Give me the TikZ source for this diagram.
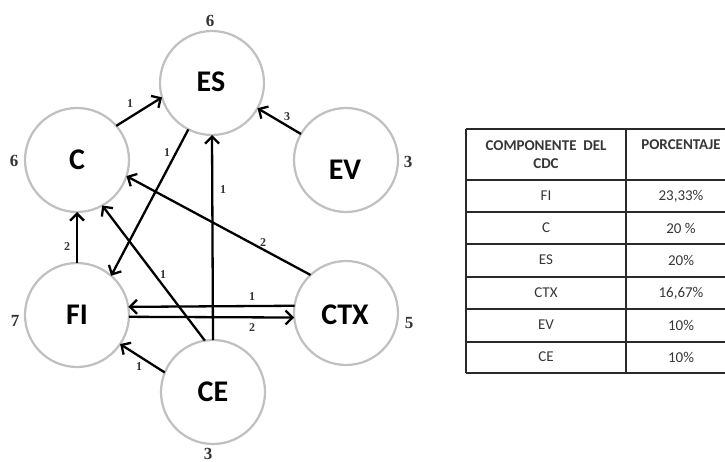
\documentclass[tikz,border=0pt]{standalone}
\usepackage{fontspec}
\setmainfont{Carlito}
\newfontfamily\numfont{Liberation Serif}
\usetikzlibrary{arrows.meta}

\definecolor{circgray}{HTML}{C0C0C0}
\definecolor{numgray}{HTML}{333333}
\definecolor{tabtext}{HTML}{363636}
\definecolor{tabline}{HTML}{2A2A2A}

\tikzset{
  comp/.style={circle, draw=circgray, line width=2.2pt, fill=white,
    minimum size=104pt, inner sep=0pt, outer sep=0pt},
  lbl/.style={font=\bfseries\fontsize{30}{30}\selectfont, text=black, inner sep=0pt},
  link/.style={line width=2.3pt, draw=black,
    -{Straight Barb[length=7pt,width=14pt]}},
  wt/.style={font=\numfont\bfseries\fontsize{12}{12}\selectfont, text=numgray, inner sep=0pt},
  tot/.style={font=\numfont\bfseries\fontsize{17}{17}\selectfont, text=numgray, inner sep=0pt},
  cell/.style={font=\fontsize{15}{15}\selectfont, text=tabtext, inner sep=0pt},
  head/.style={font=\bfseries\fontsize{15}{18}\selectfont, text=tabtext, align=center, inner sep=0pt},
  rule/.style={draw=tabline, line width=1.5pt},
}

\begin{document}
\begin{tikzpicture}[x=1pt, y=-1pt]
\useasboundingbox (0,0) rectangle (725,462);

% component circles
\node[comp] (ES)  at (212,83)  {};
\node[comp] (C)   at (77,160)  {};
\node[comp] (EV)  at (346,160) {};
\node[comp] (FI)  at (77,315)  {};
\node[comp] (CTX) at (346,313) {};
\node[comp] (CE)  at (213,392) {};

% circle captions
\node[lbl] (tES)  at (211,82)  {ES};
\node[lbl] (tC)   at (77,160)  {C};
\node[lbl] (tEV)  at (345,170) {EV};
\node[lbl] (tFI)  at (77,315)  {FI};
\node[lbl] (tCTX) at (345,315) {CTX};
\node[lbl] (tCE)  at (213,392) {CE};

% totals per component
\node[tot] (nES)  at (210,21)  {6};
\node[tot] (nC)   at (14,161)  {6};
\node[tot] (nEV)  at (408,162) {3};
\node[tot] (nFI)  at (15,321)  {7};
\node[tot] (nCTX) at (409,323) {5};
\node[tot] (nCE)  at (208,454) {3};

% weighted relations
\draw[link] (C.41)    -- (ES.196)  node[wt, at={(130,104)}] {1};
\draw[link] (EV.150)  -- (ES.331)  node[wt, at={(287,117)}] {3};
\draw[link] (ES.243)  -- (FI.49)   node[wt, at={(167,153)}] {1};
\draw[link] (CE.90)   -- (ES.270)  node[wt, at={(223,190)}] {1};
\draw[link] (CTX.133) -- (C.342)   node[wt, at={(263,243)}] {2};
\draw[link] (CE.99)   -- (C.299)   node[wt, at={(163,275)}] {1};
\draw[link] (FI.90)   -- (C.270)   node[wt, at={(67,247)}]  {2};
\draw[link] (CTX.172) -- (FI.9)    node[wt, at={(252,297)}] {1};
\draw[link] (FI.358)  -- (CTX.185) node[wt, at={(252,328)}] {2};
\draw[link] (CE.158)  -- (FI.326)  node[wt, at={(139,367)}] {1};

% summary table
\foreach \yy in {129,180,212,244,277,309,342,373}
  \draw[rule] (466,\yy) -- (738,\yy);
\draw[rule] (466,129) -- (466,373);
\draw[rule] (626,129) -- (626,373);
\draw[rule] (738,129) -- (738,373);

\node[head] (h1) at (546,155) {COMPONENTE\ \ DEL\\CDC};
\node[head] (h2) at (681,145) {PORCENTAJE};

\node[cell] (r1a) at (546,196) {FI};   \node[cell] (r1b) at (681,196) {23,33\%};
\node[cell] (r2a) at (546,228) {C};    \node[cell] (r2b) at (681,228) {20 \%};
\node[cell] (r3a) at (546,260) {ES};   \node[cell] (r3b) at (681,260) {20\%};
\node[cell] (r4a) at (546,293) {CTX};  \node[cell] (r4b) at (681,293) {16,67\%};
\node[cell] (r5a) at (546,325) {EV};   \node[cell] (r5b) at (681,325) {10\%};
\node[cell] (r6a) at (546,357) {CE};   \node[cell] (r6b) at (681,357) {10\%};
\end{tikzpicture}
\end{document}
